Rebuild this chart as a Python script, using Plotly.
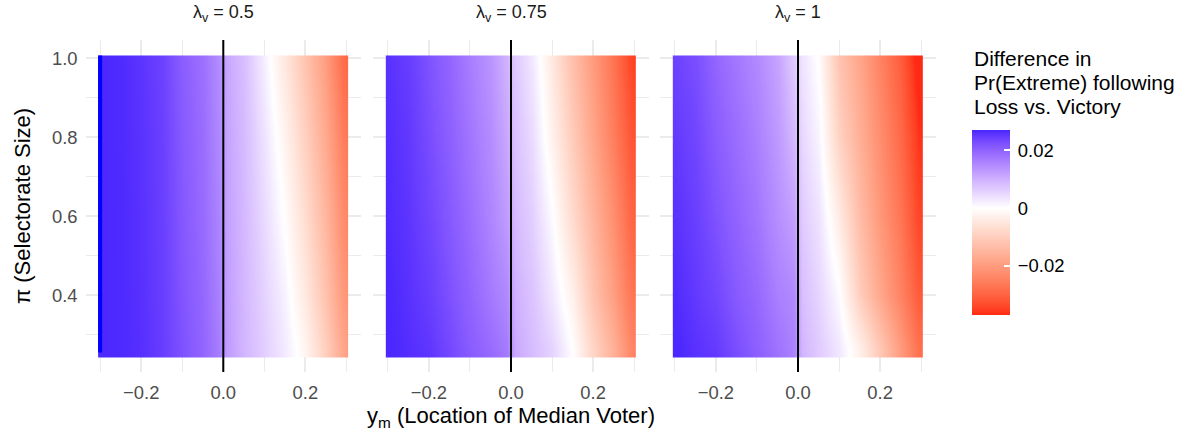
import plotly.graph_objects as go

# ---------------- data ----------------
LAMBDA_LABELS = ["0.5", "0.75", "1"]
Y_M = [-0.3, -0.29, -0.25, -0.2, -0.15, -0.1, -0.05, -0.01, 0.01, 0.05, 0.1, 0.15, 0.2, 0.25, 0.29, 0.3]
PI_SIZE = [0.25, 0.264, 0.4, 0.6, 0.8, 0.986, 1.0]

# difference in Pr(extreme), rows follow PI_SIZE, columns follow Y_M
DIFF_L050 = [
    [0.0268, 0.0268, 0.0266, 0.0260, 0.0245, 0.0220, 0.0195, 0.0165, 0.0125, 0.0092, 0.0060, 0.0025, -0.0020, -0.0100, -0.0177, -0.0190],
    [0.0268, 0.0268, 0.0266, 0.0260, 0.0245, 0.0220, 0.0195, 0.0164, 0.0125, 0.0091, 0.0060, 0.0025, -0.0020, -0.0100, -0.0175, -0.0188],
    [0.0268, 0.0268, 0.0266, 0.0259, 0.0244, 0.0217, 0.0192, 0.0160, 0.0122, 0.0090, 0.0055, 0.0015, -0.0045, -0.0125, -0.0200, -0.0210],
    [0.0268, 0.0268, 0.0266, 0.0258, 0.0243, 0.0213, 0.0188, 0.0155, 0.0118, 0.0088, 0.0045, -0.0005, -0.0070, -0.0150, -0.0225, -0.0235],
    [0.0268, 0.0268, 0.0265, 0.0257, 0.0242, 0.0210, 0.0185, 0.0150, 0.0115, 0.0085, 0.0035, -0.0025, -0.0095, -0.0175, -0.0250, -0.0262],
    [0.0268, 0.0268, 0.0265, 0.0255, 0.0240, 0.0206, 0.0181, 0.0146, 0.0111, 0.0081, 0.0021, -0.0049, -0.0119, -0.0199, -0.0278, -0.0288],
    [0.0268, 0.0268, 0.0265, 0.0255, 0.0240, 0.0205, 0.0180, 0.0145, 0.0110, 0.0080, 0.0020, -0.0050, -0.0120, -0.0200, -0.0280, -0.0290],
]
DIFF_L075 = [
    [0.0268, 0.0268, 0.0262, 0.0255, 0.0233, 0.0210, 0.0190, 0.0170, 0.0110, 0.0085, 0.0055, -0.0002, -0.0085, -0.0160, -0.0235, -0.0245],
    [0.0268, 0.0268, 0.0262, 0.0253, 0.0232, 0.0208, 0.0188, 0.0168, 0.0108, 0.0085, 0.0055, -0.0002, -0.0085, -0.0160, -0.0232, -0.0243],
    [0.0268, 0.0267, 0.0258, 0.0245, 0.0222, 0.0198, 0.0170, 0.0150, 0.0100, 0.0075, 0.0030, -0.0030, -0.0120, -0.0195, -0.0262, -0.0272],
    [0.0265, 0.0263, 0.0254, 0.0236, 0.0212, 0.0185, 0.0155, 0.0125, 0.0088, 0.0060, 0.0005, -0.0075, -0.0150, -0.0225, -0.0290, -0.0300],
    [0.0262, 0.0260, 0.0250, 0.0228, 0.0203, 0.0175, 0.0145, 0.0110, 0.0078, 0.0045, -0.0025, -0.0105, -0.0180, -0.0255, -0.0315, -0.0325],
    [0.0258, 0.0256, 0.0246, 0.0221, 0.0196, 0.0166, 0.0136, 0.0096, 0.0069, 0.0031, -0.0044, -0.0128, -0.0198, -0.0273, -0.0335, -0.0347],
    [0.0258, 0.0255, 0.0245, 0.0220, 0.0195, 0.0165, 0.0135, 0.0095, 0.0068, 0.0030, -0.0045, -0.0130, -0.0200, -0.0275, -0.0338, -0.0350],
]
DIFF_L100 = [
    [0.0268, 0.0268, 0.0258, 0.0250, 0.0226, 0.0205, 0.0180, 0.0160, 0.0095, 0.0065, 0.0030, -0.0030, -0.0110, -0.0200, -0.0270, -0.0280],
    [0.0268, 0.0268, 0.0258, 0.0248, 0.0225, 0.0203, 0.0178, 0.0160, 0.0094, 0.0065, 0.0030, -0.0030, -0.0110, -0.0200, -0.0270, -0.0280],
    [0.0265, 0.0262, 0.0250, 0.0235, 0.0210, 0.0192, 0.0162, 0.0150, 0.0082, 0.0052, 0.0005, -0.0100, -0.0175, -0.0245, -0.0305, -0.0315],
    [0.0258, 0.0255, 0.0243, 0.0220, 0.0197, 0.0175, 0.0142, 0.0120, 0.0065, 0.0035, -0.0040, -0.0135, -0.0205, -0.0270, -0.0335, -0.0345],
    [0.0250, 0.0247, 0.0235, 0.0208, 0.0185, 0.0162, 0.0128, 0.0090, 0.0050, 0.0013, -0.0090, -0.0160, -0.0225, -0.0290, -0.0355, -0.0365],
    [0.0241, 0.0238, 0.0226, 0.0196, 0.0173, 0.0151, 0.0116, 0.0066, 0.0036, -0.0003, -0.0117, -0.0178, -0.0243, -0.0308, -0.0377, -0.0387],
    [0.0240, 0.0237, 0.0225, 0.0195, 0.0172, 0.0150, 0.0115, 0.0065, 0.0035, -0.0005, -0.0120, -0.0180, -0.0245, -0.0310, -0.0380, -0.0390],
]
PANELS = [DIFF_L050, DIFF_L075, DIFF_L100]

# narrow left-edge column of the first panel
STRIP_Y_M = [-0.3]
STRIP_PI = [0.2625, 1.0]
STRIP_VALUE = 0.03

MEDIAN_LINE = 0.0
X_TICKS = [-0.2, 0.0, 0.2]
X_TICKTEXT = ["\u22120.2", "0.0", "0.2"]
Y_TICKS = [0.4, 0.6, 0.8, 1.0]
Y_TICKTEXT = ["0.4", "0.6", "0.8", "1.0"]
CB_TICKS = [-0.02, 0.0, 0.02]
CB_TICKTEXT = ["\u2009\u22120.02", "\u20090", "\u20090.02"]
CB_MIN, CB_MAX = -0.037, 0.027

# ---------------- colour scale (ggplot gradient2-like, Lab interpolation) ----------------
def _srgb_to_lin(c):
    c = c / 255.0
    return c / 12.92 if c <= 0.04045 else ((c + 0.055) / 1.055) ** 2.4

def _lin_to_srgb(c):
    c = max(0.0, min(1.0, c))
    v = 12.92 * c if c <= 0.0031308 else 1.055 * c ** (1 / 2.4) - 0.055
    return int(round(max(0, min(1, v)) * 255))

def _rgb_to_lab(rgb):
    r, g, b = (_srgb_to_lin(v) for v in rgb)
    X = (0.4124 * r + 0.3576 * g + 0.1805 * b) / 0.95047
    Y = (0.2126 * r + 0.7152 * g + 0.0722 * b)
    Z = (0.0193 * r + 0.1192 * g + 0.9505 * b) / 1.08883
    f = lambda t: t ** (1 / 3) if t > 0.008856 else 7.787 * t + 16 / 116
    fx, fy, fz = f(X), f(Y), f(Z)
    return (116 * fy - 16, 500 * (fx - fy), 200 * (fy - fz))

def _lab_to_rgb(lab):
    L, a, b = lab
    fy = (L + 16) / 116
    fx = fy + a / 500
    fz = fy - b / 200
    finv = lambda t: t ** 3 if t ** 3 > 0.008856 else (t - 16 / 116) / 7.787
    X, Y, Z = 0.95047 * finv(fx), finv(fy), 1.08883 * finv(fz)
    r = 3.2406 * X - 1.5372 * Y - 0.4986 * Z
    g = -0.9689 * X + 1.8758 * Y + 0.0415 * Z
    bb = 0.0557 * X - 0.2040 * Y + 1.0570 * Z
    return (_lin_to_srgb(r), _lin_to_srgb(g), _lin_to_srgb(bb))

WHITE = _rgb_to_lab((255, 255, 255))
RED = _rgb_to_lab((255, 0, 0))
BLUE = _rgb_to_lab((0, 0, 255))
RED_FULL, BLUE_FULL = -0.039, 0.0295

def _colour(v):
    if v >= 0:
        t, end = min(1.0, v / BLUE_FULL), BLUE
    else:
        t, end = min(1.0, v / RED_FULL), RED
    lab = tuple(w + (e - w) * t for w, e in zip(WHITE, end))
    r, g, b = _lab_to_rgb(lab)
    return f"rgb({r},{g},{b})"

NSTOP = 64
colorscale = []
for i in range(NSTOP + 1):
    p = i / NSTOP
    colorscale.append([p, _colour(CB_MIN + p * (CB_MAX - CB_MIN))])

# ---------------- figure ----------------
W, H = 1198, 431
FONT = "Liberation Sans, Arial, sans-serif"
px_x = lambda p: p / W
px_y = lambda p: 1 - p / H
DOMAINS = [(85.6, 361.0), (373.3, 648.7), (660.3, 935.7)]
Y_DOMAIN = [px_y(372), px_y(40)]
X_RANGE = [-0.3355, 0.3355]
Y_RANGE = [0.2058, 1.0462]
HALF_X, HALF_Y = 0.005, 0.007
TICK_SIZE = 18.4

fig = go.Figure()
for i, z in enumerate(PANELS):
    ax = "" if i == 0 else str(i + 1)
    fig.add_trace(go.Heatmap(
        x=Y_M, y=PI_SIZE, z=z, zsmooth="best", coloraxis="coloraxis",
        xaxis="x" + ax, yaxis="y" + ax, hoverinfo="skip"))

fig.add_trace(go.Heatmap(
    x=[STRIP_Y_M[0] - HALF_X, STRIP_Y_M[0] + HALF_X],
    y=[STRIP_PI[0] - HALF_Y, STRIP_PI[1] + HALF_Y],
    z=[[STRIP_VALUE]], colorscale=[[0, "rgb(0,0,255)"], [1, "rgb(0,0,255)"]],
    showscale=False, xaxis="x", yaxis="y", hoverinfo="skip"))

grid = "#ebebeb"
layout = dict(
    width=W, height=H, margin=dict(l=0, r=0, t=0, b=0),
    paper_bgcolor="white", plot_bgcolor="white", showlegend=False,
    font=dict(family=FONT, color="#000000"),
    coloraxis=dict(
        cmin=CB_MIN, cmax=CB_MAX, colorscale=colorscale,
        colorbar=dict(
            x=px_x(972), xanchor="left", y=px_y(130), yanchor="top",
            lenmode="pixels", len=185, thicknessmode="pixels", thickness=38,
            xpad=0, ypad=0, outlinewidth=0,
            tickvals=CB_TICKS, ticktext=CB_TICKTEXT,
            ticks="inside", ticklen=6, tickwidth=1.5, tickcolor="white",
            tickfont=dict(family=FONT, size=TICK_SIZE, color="#000000"),
        ),
    ),
)
for i, (a, b) in enumerate(DOMAINS):
    ax = "" if i == 0 else str(i + 1)
    layout["xaxis" + ax] = dict(
        domain=[px_x(a), px_x(b)], range=X_RANGE, anchor="y" + ax,
        tickvals=X_TICKS, ticktext=X_TICKTEXT, showgrid=True, gridcolor=grid, gridwidth=1.6,
        minor=dict(tickvals=[-0.3, -0.1, 0.1, 0.3], showgrid=True, gridcolor=grid, gridwidth=0.9),
        zeroline=False, showline=False, ticks="", ticklabelstandoff=8,
        tickfont=dict(family=FONT, size=TICK_SIZE, color="#4d4d4d"), fixedrange=True)
    layout["yaxis" + ax] = dict(
        domain=Y_DOMAIN, range=Y_RANGE, anchor="x" + ax,
        tickvals=Y_TICKS, ticktext=Y_TICKTEXT, showticklabels=(i == 0),
        showgrid=True, gridcolor=grid, gridwidth=1.6,
        minor=dict(tickvals=[0.3, 0.5, 0.7, 0.9], showgrid=True, gridcolor=grid, gridwidth=0.9),
        zeroline=False, showline=False, ticks="", ticklabelstandoff=7,
        tickfont=dict(family=FONT, size=TICK_SIZE, color="#4d4d4d"), fixedrange=True)
fig.update_layout(**layout)

shapes = []
annotations = []
for i, lab in enumerate(LAMBDA_LABELS):
    ax = "" if i == 0 else str(i + 1)
    shapes.append(dict(type="line", xref="x" + ax, yref="y" + ax + " domain",
                       x0=MEDIAN_LINE, x1=MEDIAN_LINE, y0=0, y1=1,
                       line=dict(color="black", width=2)))
    annotations.append(dict(
        text=f"\u03bb<sub>v</sub> = {lab}", xref="x" + ax + " domain", yref="paper",
        x=0.5, y=px_y(14), xanchor="center", yanchor="middle", showarrow=False,
        font=dict(family=FONT, size=18, color="#1a1a1a")))

annotations.append(dict(
    text="y<sub>m</sub> (Location of Median Voter)", xref="paper", yref="paper",
    x=px_x(511), y=px_y(417), xanchor="center", yanchor="middle", showarrow=False,
    font=dict(family=FONT, size=22, color="#000000")))
annotations.append(dict(
    text="\u03c0 (Selectorate Size)", xref="paper", yref="paper", textangle=-90,
    x=px_x(22), y=px_y(206), xanchor="center", yanchor="middle", showarrow=False,
    font=dict(family=FONT, size=22, color="#000000")))
for txt, yc in [("Difference in", 58.3), ("Pr(Extreme) following", 82.5), ("Loss vs. Victory", 106.5)]:
    annotations.append(dict(
        text=txt, xref="paper", yref="paper", x=px_x(972), y=px_y(yc),
        xanchor="left", yanchor="middle", showarrow=False,
        font=dict(family=FONT, size=21, color="#000000")))

fig.update_layout(shapes=shapes, annotations=annotations)
fig.write_html("out.html", config={"displayModeBar": False},
               post_script="document.body.style.margin='0';document.body.style.overflow='hidden';")
